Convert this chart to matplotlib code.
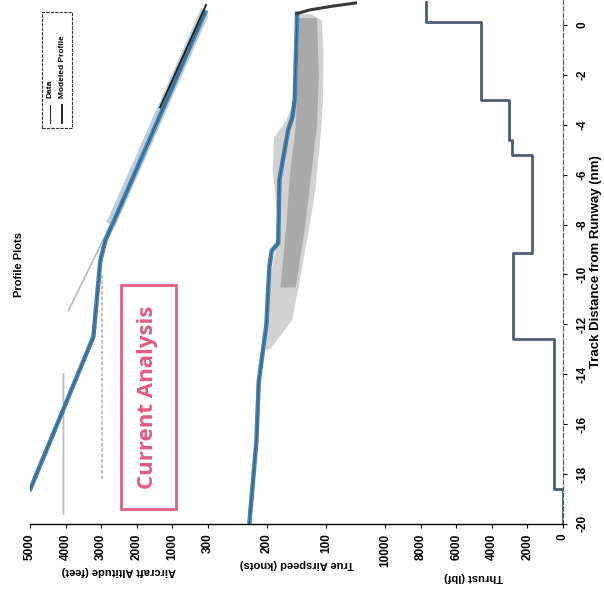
import numpy as np
import matplotlib
matplotlib.use("Agg")
import matplotlib.pyplot as plt
from matplotlib.patches import Rectangle
from matplotlib.lines import Line2D

plt.rcParams['font.family'] = ['Liberation Sans', 'DejaVu Sans']
plt.rcParams['font.weight'] = 'bold'
plt.rcParams['axes.labelweight'] = 'bold'

# ---- data (distance in nm, negative = before runway)
dist_ticks = [-20, -18, -16, -14, -12, -10, -8, -6, -4, -2, 0]

# altitude panel
alt_model_dist = [-18.6, -12.5, -9.45, -8.65, 0.5]
alt_model_ft = [4990, 3220, 3025, 2885, 85]
alt_trk1_dist = [-19.6, -14.0, np.nan, -11.45, -7.0]
alt_trk1_ft = [4060, 4060, np.nan, 3920, 2390]
alt_trk2_dist = [-18.2, -10.0]
alt_trk2_ft = [2970, 2970]
alt_band_dist = [-8.0, 0.6]
alt_band_ft = [2730, 65]
alt_dark_dist = [-3.3, 0.8]
alt_dark_ft = [1345, 56]

# airspeed panel
tas_model_dist = [-20, -16.7, -14.3, -12.0, -9.7, -9.05, -8.75, -6.2, -4.2, -3.7, -3.0, 0.45]
tas_model_kt = [230, 218, 214, 201, 196, 192, 181, 179, 164, 157, 153, 149]
tas_band_dist = [-13.0, -11.8, -10.2, -8.2, -6.5, -5.8, -4.5, -3.8, -3.0, -1.0, 0.2, 0.45]
tas_band_fast = [203, 200, 196, 181, 188, 191, 189, 168, 155, 152, 151, 150]
tas_band_slow = [196, 158, 145, 130, 118, 116, 110, 108, 106, 105, 108, 125]
tas_core_dist = [-10.5, -8.0, -6.0, -4.0, -2.0, 0.3]
tas_core_fast = [178, 168, 162, 152, 149, 147]
tas_core_slow = [152, 136, 126, 116, 113, 116]
tas_tail_dist = [0.45, 0.6, 0.75, 0.88]
tas_tail_kt = [150, 128, 90, 50]

# thrust panel (step levels between distance edges)
thr_edges = [-20, -18.6, -12.6, -9.16, -5.2, -4.6, -3.0, 0.1, 0.9]
thr_lbf = [0, 500, 2800, 1750, 2850, 3050, 4600, 7700]

blue = '#4781ad'
gray = '#8e8e8e'

fig = plt.figure(figsize=(6.04, 6.07), dpi=100)
bot, hgt = 0.137, 0.863
ax1 = fig.add_axes([0.0497, bot, 0.2947, hgt])
ax2 = fig.add_axes([0.3444, bot, 0.2930, hgt])
ax3 = fig.add_axes([0.6374, bot, 0.2947, hgt])


def setup(ax, xmax, xticks, label):
    ax.set_xlim(xmax, 0)
    ax.set_ylim(-20, 1)
    ax.set_xticks(xticks)
    ax.set_xticklabels([str(t) for t in xticks], rotation=90, fontsize=8.5)
    ax.set_xlabel(label, rotation=180, fontsize=8, labelpad=4)
    for s in ['top', 'left', 'right']:
        ax.spines[s].set_visible(False)
    ax.spines['bottom'].set_linewidth(1.0)
    ax.tick_params(axis='x', length=3, width=0.8, pad=4)
    ax.tick_params(axis='y', left=False, labelleft=False)


setup(ax1, 5000, [1000, 2000, 3000, 4000, 5000], 'Aircraft Altitude (feet)')
setup(ax2, 300, [100, 200, 300], 'True Airspeed (knots)')
setup(ax3, 10000, [0, 2000, 4000, 6000, 8000, 10000], 'Thrust (lbf)')

# altitude
ax1.plot(alt_trk1_ft, alt_trk1_dist, color=gray, lw=1.3, alpha=0.6)
ax1.plot(alt_trk2_ft, alt_trk2_dist, color=gray, lw=1.3, alpha=0.6, ls=(0, (2, 1)))
ax1.plot(alt_band_ft, alt_band_dist, color='#a9c2d6', lw=7, alpha=0.8, solid_capstyle='butt')
ax1.plot(alt_model_ft, alt_model_dist, color=blue, lw=3.2)
ax1.plot(alt_model_ft, alt_model_dist, color='#2c506b', lw=0.7, alpha=0.7)
ax1.plot(alt_dark_ft, alt_dark_dist, color='#222222', lw=1.4)

# manual rotated legend (axes fraction)
tr = ax1.transAxes
ax1.add_patch(Rectangle((0.067, 0.756), 0.169, 0.221, transform=tr, fill=False,
                        edgecolor='#333333', lw=0.8, ls=(0, (3, 1))))
ax1.add_line(Line2D([0.112, 0.112], [0.765, 0.800], transform=tr, color='#333333', lw=0.8))
ax1.add_line(Line2D([0.180, 0.180], [0.765, 0.800], transform=tr, color='#222222', lw=1.4))
ax1.text(0.112, 0.812, 'Data', transform=tr, rotation=90, ha='center', va='bottom', fontsize=6)
ax1.text(0.180, 0.812, 'Modeled Profile', transform=tr, rotation=90, ha='center', va='bottom', fontsize=6)

# airspeed
ax2.fill_betweenx(tas_band_dist, tas_band_fast, tas_band_slow, color=gray, alpha=0.4, lw=0)
ax2.fill_betweenx(tas_core_dist, tas_core_fast, tas_core_slow, color='#7a7a7a', alpha=0.45, lw=0)
ax2.plot(tas_model_kt, tas_model_dist, color=blue, lw=3.2)
ax2.plot(tas_model_kt, tas_model_dist, color='#2c506b', lw=0.7, alpha=0.7)
ax2.plot(tas_tail_kt, tas_tail_dist, color='#3a3a3a', lw=2.2)

# thrust
step_d = np.repeat(thr_edges, 2)[1:-1]
step_t = np.repeat(thr_lbf, 2)
ax3.plot(step_t, step_d, color='#4d5d73', lw=2)
ax3.spines['right'].set_visible(True)
ax3.spines['right'].set_linestyle((0, (4, 2)))
ax3.spines['right'].set_color('#555555')
ax3.spines['right'].set_linewidth(0.8)
ax3.yaxis.tick_right()
ax3.tick_params(axis='y', right=True, labelright=True, length=3, width=0.8, pad=7)
ax3.set_yticks(dist_ticks)
ax3.set_yticklabels([str(t) for t in dist_ticks], rotation=90, fontsize=8.5, va='center')
ax3.yaxis.set_label_position('right')
ax3.set_ylabel('Track Distance from Runway (nm)', rotation=90, fontsize=9.5, labelpad=1)

# title and stamp
fig.text(0.0315, 0.565, 'Profile Plots', rotation=90, ha='center', va='center', fontsize=8)
fig.patches.append(Rectangle((0.2003, 0.1614), 0.0911, 0.369, transform=fig.transFigure,
                             facecolor='white', edgecolor='#e0607f', lw=2, zorder=5))
fig.text(0.245, 0.346, 'Current Analysis', rotation=90, ha='center', va='center',
         fontsize=16, color='#e35b7c', family=['Open Sans', 'DejaVu Sans'], weight='bold', zorder=6)

fig.savefig('out.png', dpi=100)
